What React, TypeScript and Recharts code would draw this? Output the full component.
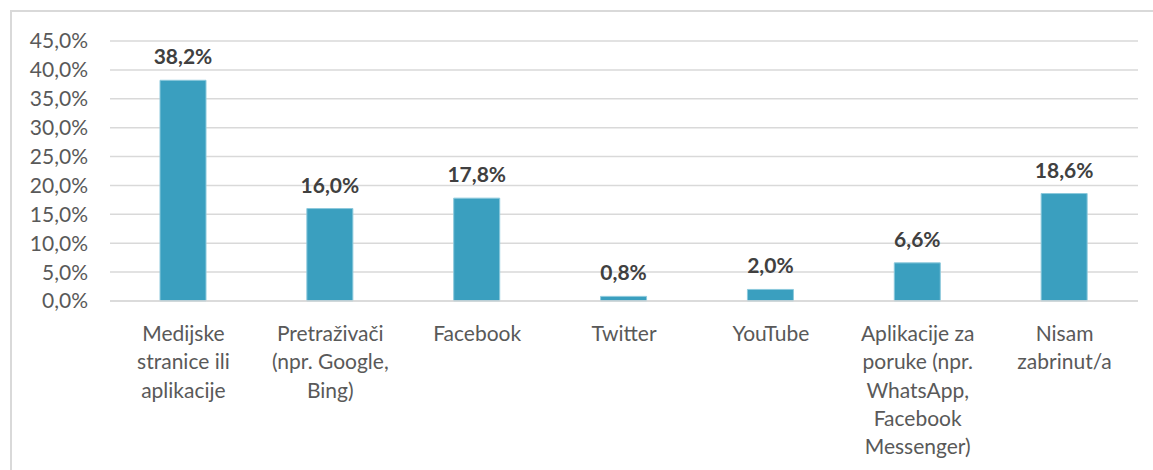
import React from 'react';
import { BarChart, Bar, XAxis, YAxis, CartesianGrid, LabelList } from 'recharts';

// kategorije i vrijednosti (%)
const categories = [
  'Medijske stranice ili aplikacije',
  'Pretraživači (npr. Google, Bing)',
  'Facebook',
  'Twitter',
  'YouTube',
  'Aplikacije za poruke (npr. WhatsApp, Facebook Messenger)',
  'Nisam zabrinut/a',
];
const categoryLines = [
  ['Medijske', 'stranice ili', 'aplikacije'],
  ['Pretraživači', '(npr. Google,', 'Bing)'],
  ['Facebook'],
  ['Twitter'],
  ['YouTube'],
  ['Aplikacije za', 'poruke (npr.', 'WhatsApp,', 'Facebook', 'Messenger)'],
  ['Nisam', 'zabrinut/a'],
];
const values = [38.2, 16.0, 17.8, 0.8, 2.0, 6.6, 18.6];
const yTicks = [0, 5, 10, 15, 20, 25, 30, 35, 40, 45];

const data = categories.map((name, i) => ({ name, value: values[i] }));

const fmt = (v: number) => v.toFixed(1).replace('.', ',') + '%';
const FONT = 'Lato, "Open Sans", sans-serif';

const CategoryTick = (props: any) => {
  const { x, y, payload } = props;
  const idx = categories.indexOf(payload.value);
  const lines = categoryLines[idx] || [payload.value];
  return (
    <text x={x} y={y} textAnchor="middle" fill="#595959" fontSize={21} fontFamily={FONT}>
      {lines.map((l, i) => (
        <tspan key={i} x={x} y={y + 32 + i * 28.3}>
          {l}
        </tspan>
      ))}
    </text>
  );
};

export default function App() {
  return (
    <div style={{ position: 'absolute', left: 0, top: 0, width: 1153, height: 470, background: '#fff', overflow: 'hidden' }}>
      <div
        style={{
          position: 'absolute',
          left: 10,
          top: 10,
          width: 1160,
          height: 500,
          border: '2px solid #d9d9d9',
          boxSizing: 'border-box',
        }}
      />
      <BarChart
        width={1153}
        height={470}
        data={data}
        margin={{ top: 41, right: 15, left: 10, bottom: 9 }}
        style={{ position: 'absolute', left: 0, top: 0 }}
      >
        <CartesianGrid vertical={false} stroke="#d9d9d9" strokeWidth={1.5} />
        <XAxis
          dataKey="name"
          interval={0}
          height={160}
          tick={<CategoryTick />}
          tickLine={false}
          axisLine={{ stroke: '#d9d9d9', strokeWidth: 1.5 }}
        />
        <YAxis
          width={100}
          domain={[0, 45]}
          ticks={yTicks}
          interval={0}
          tickFormatter={fmt}
          tickLine={false}
          axisLine={false}
          tickSize={0}
          tickMargin={22}
          tick={{ fill: '#595959', fontSize: 21, fontFamily: FONT }}
        />
        <Bar dataKey="value" fill="#3a9fbf" stroke="#8cc9dc" strokeWidth={1} barSize={46} isAnimationActive={false}>
          <LabelList
            dataKey="value"
            position="top"
            offset={16}
            formatter={(v: any) => fmt(Number(v))}
            style={{ fill: '#404040', fontSize: 21, fontWeight: 700, fontFamily: FONT }}
          />
        </Bar>
      </BarChart>
    </div>
  );
}
